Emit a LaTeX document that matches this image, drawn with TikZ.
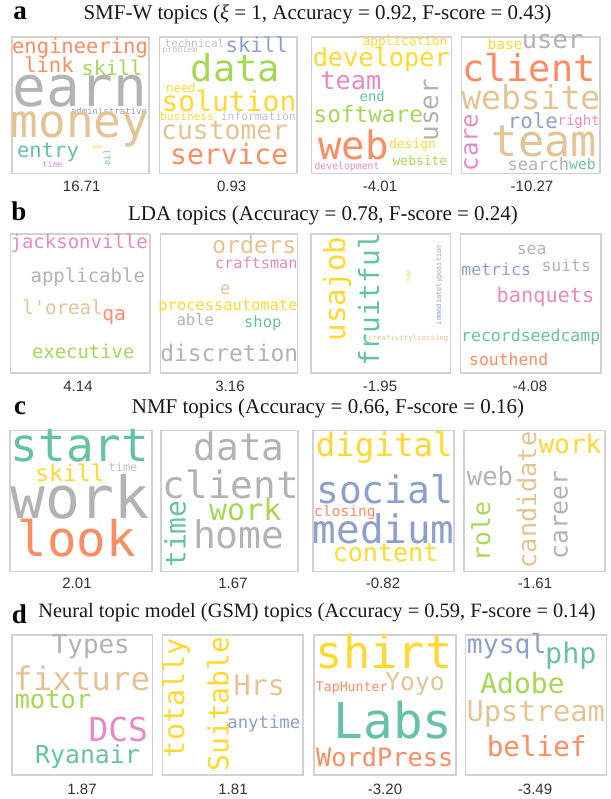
\documentclass[tikz,border=0pt]{standalone}
\usepackage{fontspec}
\setmainfont{Liberation Serif}
\newfontfamily\wcfont{DejaVu Sans Mono}
\newfontfamily\numfont{Liberation Sans}

% Set2 palette used by the word clouds
\definecolor{cteal}{HTML}{66C2A5}
\definecolor{corange}{HTML}{FC8D62}
\definecolor{cblue}{HTML}{8DA0CB}
\definecolor{cpink}{HTML}{E78AC3}
\definecolor{cgreen}{HTML}{A6D854}
\definecolor{cyellow}{HTML}{FFD92F}
\definecolor{ctan}{HTML}{E5C494}
\definecolor{cgray}{HTML}{B3B3B3}
\definecolor{framegray}{HTML}{D2D2D2}
\definecolor{scoregray}{HTML}{333333}

\tikzset{
  word/.style={inner sep=0pt, anchor=base},
  cloudbox/.style={draw=framegray, line width=1.1pt},
  score/.style={inner sep=0pt, anchor=center, text=scoregray, font=\numfont\fontsize{15}{15}\selectfont},
  panellabel/.style={inner sep=0pt, anchor=center, font=\bfseries\fontsize{27}{27}\selectfont},
  paneltitle/.style={inner sep=0pt, anchor=center, text=black!90, font=\fontsize{21}{21}\selectfont},
}

% \W[rotation]{x}{y}{size}{colour}{word}; (x,y) is the middle of the baseline
\newcommand\W[6][0]{\node[word, rotate=#1, text=#5, font=\wcfont\fontsize{#4}{#4}\selectfont] at (#2,#3) {#6};}
% straight apostrophe, taken as a glyph so no quote mapping applies
\newcommand\squote{\XeTeXglyph\XeTeXcharglyph"27\relax}

\begin{document}
\begin{tikzpicture}[x=1pt,y=-1pt]
\useasboundingbox (0,0) rectangle (610,799);
\fill[white] (0,0) rectangle (610,799);

% ---------------- a: SMF-W ----------------
\node[panellabel] (la) at (20,13.5) {a};
\node[paneltitle] (ta) at (317.5,14) {SMF-W topics (\textit{ξ} = 1, Accuracy = 0.92, F-score = 0.43)};
\draw[cloudbox] (12,37) rectangle (149,173.5);
\draw[cloudbox] (159.5,37) rectangle (297,173.5);
\draw[cloudbox] (311.5,37) rectangle (451.5,173.5);
\draw[cloudbox] (461.5,37) rectangle (600,173.5);
\node[score] (sa1) at (81.7,186) {16.71};
\node[score] (sa2) at (231.7,186) {0.93};
\node[score] (sa3) at (380,186) {-4.01};
\node[score] (sa4) at (532,186) {-10.27};

\W{80}{54}{20.5}{corange}{engineering}
\W{49}{73}{20.5}{corange}{link}
\W{112}{76}{20.2}{cgreen}{skill}
\W{80}{107}{56}{cgray}{earn}
\W{109}{115}{9}{cblue}{administrative}
\W{80}{138}{46}{ctan}{money}
\W{48}{158}{20.5}{cteal}{entry}
\W{97.5}{149}{5.5}{cyellow}{gas}
\W[90]{110}{157.5}{8.5}{cteal}{oil}
\W{52.5}{168}{8.3}{cpink}{time}

\W{194.5}{47.7}{11}{cgray!80}{technical}
\W{180}{53}{8.2}{cgray!80}{problem}
\W{256.7}{53}{20.7}{cblue}{skill}
\W{235.5}{81.7}{37}{cgreen}{data}
\W{181}{92.7}{12.3}{cyellow}{need}
\W{229}{111.7}{28}{cyellow}{solution}
\W{187}{120.7}{11.2}{cyellow}{business}
\W{258.3}{120.7}{11.3}{cgray!80}{information}
\W{224.7}{140}{26.4}{ctan}{customer}
\W{229.2}{165}{28}{corange}{service}

\W{405}{46}{12.8}{cyellow}{application}
\W{381.3}{67}{25.3}{cyellow}{developer}
\W{350.8}{90}{25.3}{cpink}{team}
\W{372.2}{101.7}{13.9}{cteal}{end}
\W[90]{438}{110}{26}{cgray}{user}
\W{368.3}{122.7}{22.7}{cgreen}{software}
\W{353.3}{159.3}{39}{corange}{web}
\W{412.5}{148.3}{12.9}{cyellow}{design}
\W{420}{166}{13}{cgreen}{website}
\W{347}{169.3}{9.8}{cpink}{development}

\W{505}{49.3}{14.5}{cyellow}{base}
\W{552.5}{48.3}{25.4}{cgray}{user}
\W{528.8}{81.7}{36.9}{corange}{client}
\W{530.8}{110}{33}{ctan}{website}
\W[90]{477.7}{142.5}{24}{cpink}{care}
\W{532.8}{128.3}{20.7}{cblue}{role}
\W{578.7}{126}{14}{cpink}{right}
\W{544.3}{156.7}{43.5}{ctan}{team}
\W{538.3}{170.7}{17}{cgray}{search}
\W{582.5}{170}{14.7}{cteal}{web}

% ---------------- b: LDA ----------------
\node[panellabel] (lb) at (19,211) {b};
\node[paneltitle] (tb) at (323,215) {LDA topics (Accuracy = 0.78, F-score = 0.24)};
\draw[cloudbox] (10.5,234) rectangle (150,373);
\draw[cloudbox] (160.5,234) rectangle (297.5,373);
\draw[cloudbox] (311,234) rectangle (450.5,373);
\draw[cloudbox] (460.5,234) rectangle (601,373);
\node[score] (sb1) at (78,386.7) {4.14};
\node[score] (sb2) at (230,386.7) {3.16};
\node[score] (sb3) at (380,386.7) {-1.95};
\node[score] (sb4) at (530,386.7) {-4.08};

\W{79.2}{249}{19}{cpink}{jacksonville}
\W{87.8}{282.3}{19}{cgray}{applicable}
\W{62.5}{314.3}{19.1}{ctan}{l\squote oreal}
\W{114.2}{320}{19.7}{corange}{qa}
\W{83.3}{358.3}{18.9}{cgreen}{executive}

\W{254.2}{253.3}{23.3}{ctan}{orders}
\W{256.3}{269}{15.2}{cpink}{craftsman}
\W{225.3}{294}{17}{ctan}{e}
\W{228}{310}{15.4}{cyellow}{processautomate}
\W{195.3}{325}{15.6}{cgray}{able}
\W{262.8}{327.7}{15.5}{cteal}{shop}
\W{229.2}{361.7}{22.9}{cgray}{discretion}

\W[90]{345}{289}{29}{cyellow}{usajob}
\W[90]{379}{300}{27.7}{cteal}{fruitful}
\W[90]{410.5}{277}{6.5}{cyellow}{now}
\W[90]{441}{285}{7}{cblue}{immediatelyposition}
\W{408.3}{340}{7.4}{ctan}{creativityliaising}

\W{531.7}{254.3}{16.5}{cgray}{sea}
\W{496.2}{275}{16.5}{cblue}{metrics}
\W{566.2}{271}{16.4}{cgray}{suits}
\W{545.5}{302.3}{20.3}{cpink}{banquets}
\W{530.7}{341.7}{16.5}{cteal}{recordseedcamp}
\W{508.7}{365.7}{16.4}{corange}{southend}

% ---------------- c: NMF ----------------
\node[panellabel] (lc) at (20,408) {c};
\node[paneltitle] (tc) at (328,408) {NMF topics (Accuracy = 0.66, F-score = 0.16)};
\draw[cloudbox] (10,430.5) rectangle (152,571.5);
\draw[cloudbox] (161,430.5) rectangle (298,571.5);
\draw[cloudbox] (313,430.5) rectangle (454,571.5);
\draw[cloudbox] (464,430.5) rectangle (605,571.5);
\node[score] (sc1) at (77,583.3) {2.01};
\node[score] (sc2) at (233,583.3) {1.67};
\node[score] (sc3) at (383,583.3) {-0.82};
\node[score] (sc4) at (535,583.3) {-1.61};

\W{80}{461.7}{46}{cteal}{start}
\W{70}{481.7}{23}{cyellow}{skill}
\W{123}{471.7}{12}{cgray!80}{time}
\W{80}{518.3}{58}{cgray}{work}
\W{76.7}{556.7}{49}{corange}{look}

\W{239.3}{460}{37.7}{cgray}{data}
\W{230.8}{498.3}{37.6}{cgray}{client}
\W[90]{185.5}{534}{28}{cteal}{time}
\W{245.3}{520}{30}{cgreen}{work}
\W{238.8}{548.3}{38}{cgray}{home}

\W{384.3}{456.7}{32.5}{cyellow}{digital}
\W{384.7}{503.3}{37.9}{cblue}{social}
\W{345}{516}{14.6}{corange}{closing}
\W{383.7}{543.3}{39.2}{cblue}{medium}
\W{385.5}{561.7}{25}{cyellow}{content}

\W{570}{453.3}{26}{cyellow}{work}
\W[90]{536}{500}{25.2}{ctan}{candidate}
\W{490}{485}{25.5}{cgray}{web}
\W[90]{490}{531.7}{24.6}{cgreen}{role}
\W[90]{567.7}{515}{24.7}{cgray}{career}

% ---------------- d: GSM ----------------
\node[panellabel] (ld) at (19.5,614) {d};
\node[paneltitle, font=\fontsize{20.4}{20.4}\selectfont] (td) at (317,613) {Neural topic model (GSM) topics (Accuracy = 0.59, F-score = 0.14)};
\draw[cloudbox] (12,635) rectangle (152.5,775);
\draw[cloudbox] (162.5,635) rectangle (303,775);
\draw[cloudbox] (314,635) rectangle (456,775);
\draw[cloudbox] (465.5,635) rectangle (606.5,775);
\node[score] (sd1) at (82,789) {1.87};
\node[score] (sd2) at (233,789) {1.81};
\node[score] (sd3) at (385,789) {-3.20};
\node[score] (sd4) at (535,789) {-3.49};

\W{90.8}{653.3}{25.9}{cgray}{Types}
\W{81.7}{690}{32.5}{ctan}{fixture}
\W{53}{708.3}{25.5}{cgreen}{motor}
\W{118.3}{741.7}{33}{cpink}{DCS}
\W{87.5}{763.3}{24.8}{cteal}{Ryanair}

\W[90]{184}{698}{28.5}{cyellow}{totally}
\W[90]{228.7}{704}{28}{cyellow}{Suitable}
\W{259.2}{695}{28.4}{ctan}{Hrs}
\W{263.8}{728.3}{17.3}{cblue}{anytime}

\W{384.2}{668.3}{45.4}{cyellow}{shirt}
\W{351.7}{691.7}{13.2}{corange}{TapHunter}
\W{415}{690}{24.6}{ctan}{Yoyo}
\W{393.3}{738.3}{49.3}{cteal}{Labs}
\W{384.7}{766.7}{25.3}{corange}{WordPress}

\W{506.7}{653.3}{26.4}{cblue}{mysql}
\W{570.8}{663.3}{28.4}{cteal}{php}
\W{522.5}{693.3}{28}{cgreen}{Adobe}
\W{535.8}{721.7}{28.7}{ctan}{Upstream}
\W{536.7}{756.7}{27.6}{corange}{belief}
\end{tikzpicture}
\end{document}
